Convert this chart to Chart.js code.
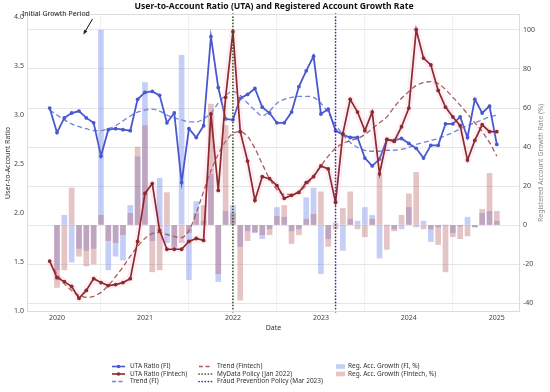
<!DOCTYPE html>
<html>
<head>
<meta charset="utf-8">
<script src="https://cdn.jsdelivr.net/npm/chart.js@4.4.1/dist/chart.umd.min.js"></script>
<style>
html, body { margin:0; padding:0; background:#fff; }
#wrap { width:550px; height:392px; }
</style>
</head>
<body>
<div id="wrap"><canvas id="chart" width="550" height="392"></canvas></div>
<script>
// monthly observations, Dec 2019 .. Jan 2025
const months = [
	'2019-12',
	'2020-01','2020-02','2020-03','2020-04','2020-05','2020-06','2020-07','2020-08','2020-09','2020-10','2020-11','2020-12',
	'2021-01','2021-02','2021-03','2021-04','2021-05','2021-06','2021-07','2021-08','2021-09','2021-10','2021-11','2021-12',
	'2022-01','2022-02','2022-03','2022-04','2022-05','2022-06','2022-07','2022-08','2022-09','2022-10','2022-11','2022-12',
	'2023-01','2023-02','2023-03','2023-04','2023-05','2023-06','2023-07','2023-08','2023-09','2023-10','2023-11','2023-12',
	'2024-01','2024-02','2024-03','2024-04','2024-05','2024-06','2024-07','2024-08','2024-09','2024-10','2024-11','2024-12',
	'2025-01'
];

const utaFI = [3.07,
	2.82,2.97,3.02,3.04,2.97,2.92,2.58,2.85,2.86,2.85,2.84,3.16,
	3.23,3.24,3.20,2.92,3.02,2.31,2.86,2.77,2.89,3.80,3.28,2.96,
	2.95,3.17,3.21,3.27,3.08,3.02,2.92,2.92,3.03,3.29,3.45,3.60,
	3.01,3.06,2.84,2.80,2.77,2.77,2.56,2.48,2.55,2.75,2.74,2.76,
	2.71,2.66,2.56,2.69,2.69,2.91,2.91,2.98,2.77,3.16,3.02,3.09,
	2.70];

const utaFintech = [1.51,
	1.34,1.30,1.25,1.13,1.21,1.33,1.29,1.26,1.27,1.29,1.33,1.71,
	2.20,2.30,1.82,1.63,1.63,1.63,1.71,1.74,1.72,3.01,2.23,3.18,
	3.85,2.83,2.53,2.13,2.37,2.35,2.28,2.15,2.18,2.21,2.31,2.37,
	2.48,2.45,2.11,2.81,3.16,3.03,2.84,3.03,2.40,2.75,2.73,2.88,
	3.07,3.87,3.58,3.51,3.25,3.08,2.98,2.89,2.54,2.74,2.90,2.83,
	2.83];

const trendFI = [3.05,
	3.00,2.95,2.91,2.88,2.86,2.84,2.84,2.86,2.89,2.94,2.99,3.03,
	3.05,3.06,3.04,3.00,2.97,2.95,2.93,2.93,2.96,3.02,3.12,3.20,
	3.24,3.20,3.12,3.05,2.99,3.04,3.12,3.16,3.18,3.19,3.19,3.18,
	3.12,3.02,2.90,2.80,2.72,2.67,2.64,2.63,2.63,2.64,2.64,2.65,
	2.67,2.70,2.72,2.74,2.76,2.79,2.82,2.86,2.89,2.92,2.95,2.98,
	3.00];

const trendFintech = [1.50,
	1.38,1.28,1.21,1.16,1.14,1.15,1.19,1.26,1.35,1.45,1.56,1.66,
	1.74,1.79,1.80,1.78,1.76,1.75,1.82,2.00,2.22,2.43,2.60,2.73,
	2.81,2.83,2.78,2.66,2.50,2.35,2.24,2.19,2.19,2.22,2.28,2.38,
	2.48,2.58,2.66,2.71,2.74,2.76,2.80,2.86,2.92,2.98,3.08,3.17,
	3.24,3.30,3.33,3.34,3.32,3.26,3.18,3.10,3.01,2.92,2.83,2.72,
	2.58];

// registered account growth, % month on month
const growthFI = [null,
	-23,5,-19,-12,-13,-12,100,-23,-16,-18,10,35,
	73,-8,24,-9,-12,87,-28,12,2,26,-29,7,
	10,-11,-3,-4,-7,-2,9,4,-3,-2,14,19,
	-25,-7,1,-13,3,2,9,5,-17,0,-2,-2,
	9,-1,2,-8.5,-1,0,-4,-0.5,4,-1,6,7,
	2];

const growthFintech = [null,
	-32,-23,19,-16,-21,-20,5,-8,-9,-5,6,40,
	51,-24,-23,16.6,-11,-9,-4,6,10,62,-25,51,
	6,-38.5,-8,-3.5,-5,-5,4.5,10,-9.5,-5,3,5.5,
	17,-11,-2,8.5,17,-2,-6,3,25.5,-12.5,-3,5,
	16,27,-2,-2,-10,-24,-6,-7,-5.6,-1,8,26.5,
	7];

const yearTicks = [2020, 2021, 2022, 2023, 2024, 2025];
const ratioTicks = [1.0, 1.5, 2.0, 2.5, 3.0, 3.5, 4.0];
const growthTicks = [-40, -20, 0, 20, 40, 60, 80, 100];
const policies = [
	{ label: 'MyData Policy (Jan 2022)', date: '2022-01', color: '#34501f' },
	{ label: 'Fraud Prevention Policy (Mar 2023)', date: '2023-03', color: '#4e2590' }
];

const FONT = "'Noto Sans', 'DejaVu Sans', sans-serif";
const C_FI = '#4a58d0', C_FIN = '#8a2c2c';
const C_TFI = '#7283dc', C_TFIN = '#a85c5c';
const C_BFI = 'rgba(100,125,235,0.38)', C_BFIN = 'rgba(185,100,100,0.38)';

function monthIndex(s){
	var p = s.split('-');
	return (+p[0] - 2020) * 12 + (+p[1] - 1);
}
function points(arr){
	return months.map(function(d, i){ return { x: monthIndex(d), y: arr[i] }; });
}

var overlay = {
	id: 'overlay',
	afterDatasetsDraw: function(chart){
		var ctx = chart.ctx, a = chart.chartArea, xs = chart.scales.x;
		ctx.save();
		ctx.lineWidth = 1.7;
		ctx.lineCap = 'round';
		ctx.setLineDash([0.1, 3]);
		policies.forEach(function(p){
			var px = xs.getPixelForValue(monthIndex(p.date));
			ctx.strokeStyle = p.color;
			ctx.beginPath();
			ctx.moveTo(px, a.top);
			ctx.lineTo(px, a.bottom);
			ctx.stroke();
		});
		ctx.restore();
	},
	afterDraw: function(chart){
		var ctx = chart.ctx, a = chart.chartArea;
		var xs = chart.scales.x, yl = chart.scales.y;
		ctx.save();
		// frame
		ctx.strokeStyle = '#dcdcdc';
		ctx.lineWidth = 1;
		ctx.strokeRect(a.left + 0.5, a.top + 0.5, a.right - a.left - 1, a.bottom - a.top - 1);

		// title
		ctx.fillStyle = '#111';
		ctx.font = 'bold 8.6px ' + FONT;
		ctx.textAlign = 'center';
		ctx.textBaseline = 'middle';
		ctx.fillText('User-to-Account Ratio (UTA) and Registered Account Growth Rate', 274, 7);

		// right axis title, reading bottom to top
		ctx.save();
		ctx.translate(541, (a.top + a.bottom) / 2);
		ctx.rotate(-Math.PI / 2);
		ctx.fillStyle = '#8a8a8a';
		ctx.font = '7px ' + FONT;
		ctx.fillText('Registered Account Growth Rate (%)', 0, 0);
		ctx.restore();

		// annotation
		var tx = xs.getPixelForValue(3.6), ty = yl.getPixelForValue(3.82);
		ctx.fillStyle = '#222';
		ctx.font = '7px ' + FONT;
		ctx.textAlign = 'left';
		ctx.fillText('Initial Growth Period', 22, 14);
		var sx = 92.5, sy = 19;
		var ang = Math.atan2(ty - sy, tx - sx);
		ctx.strokeStyle = '#111';
		ctx.lineWidth = 1;
		ctx.beginPath();
		ctx.moveTo(sx, sy);
		ctx.lineTo(tx - 3 * Math.cos(ang), ty - 3 * Math.sin(ang));
		ctx.stroke();
		ctx.beginPath();
		ctx.moveTo(tx, ty);
		ctx.lineTo(tx - 5 * Math.cos(ang - 0.4), ty - 5 * Math.sin(ang - 0.4));
		ctx.lineTo(tx - 5 * Math.cos(ang + 0.4), ty - 5 * Math.sin(ang + 0.4));
		ctx.closePath();
		ctx.fill();

		// legend
		var rows = [366.5, 374, 381.5];
		ctx.font = '6.5px ' + FONT;
		ctx.textBaseline = 'middle';
		function lineItem(x, y, color, dash, marker, text){
			ctx.save();
			ctx.strokeStyle = color;
			ctx.lineWidth = dash && dash[0] < 1 ? 1.7 : 1.6;
			ctx.lineCap = dash && dash[0] < 1 ? 'round' : 'butt';
			ctx.setLineDash(dash || []);
			ctx.beginPath();
			ctx.moveTo(x, y);
			ctx.lineTo(x + 13, y);
			ctx.stroke();
			if(marker){
				ctx.fillStyle = color;
				ctx.beginPath();
				ctx.arc(x + 6.5, y, 1.8, 0, Math.PI * 2);
				ctx.fill();
			}
			ctx.restore();
			ctx.fillStyle = '#333';
			ctx.fillText(text, x + 18, y);
		}
		function patchItem(x, y, color, text){
			ctx.fillStyle = color;
			ctx.fillRect(x, y - 2.3, 9, 4.6);
			ctx.fillStyle = '#333';
			ctx.fillText(text, x + 12, y);
		}
		lineItem(112, rows[0], C_FI, null, true, 'UTA Ratio (FI)');
		lineItem(112, rows[1], C_FIN, null, true, 'UTA Ratio (Fintech)');
		lineItem(112, rows[2], C_TFI, [4, 2.5], false, 'Trend (FI)');
		lineItem(199, rows[0], C_TFIN, [4, 2.5], false, 'Trend (Fintech)');
		lineItem(199, rows[1], policies[0].color, [0.1, 3], false, policies[0].label);
		lineItem(199, rows[2], policies[1].color, [0.1, 3], false, policies[1].label);
		patchItem(336, rows[0], C_BFI, 'Reg. Acc. Growth (FI, %)');
		patchItem(336, rows[1], C_BFIN, 'Reg. Acc. Growth (Fintech, %)');
		ctx.restore();
	}
};

var config = {
	type: 'bar',
	data: {
		datasets: [
			{
				type: 'bar',
				label: 'Reg. Acc. Growth (FI, %)',
				data: points(growthFI),
				yAxisID: 'y1',
				backgroundColor: C_BFI,
				barThickness: 5,
				grouped: false,
				order: 10
			},
			{
				type: 'bar',
				label: 'Reg. Acc. Growth (Fintech, %)',
				data: points(growthFintech),
				yAxisID: 'y1',
				backgroundColor: C_BFIN,
				barThickness: 5,
				grouped: false,
				order: 9
			},
			{
				type: 'line',
				label: 'Trend (FI)',
				data: points(trendFI),
				yAxisID: 'y',
				borderColor: C_TFI,
				borderDash: [5, 3],
				borderWidth: 1.3,
				pointRadius: 0,
				cubicInterpolationMode: 'monotone',
				order: 8
			},
			{
				type: 'line',
				label: 'Trend (Fintech)',
				data: points(trendFintech),
				yAxisID: 'y',
				borderColor: C_TFIN,
				borderDash: [5, 3],
				borderWidth: 1.3,
				pointRadius: 0,
				cubicInterpolationMode: 'monotone',
				order: 7
			},
			{
				type: 'line',
				label: 'UTA Ratio (FI)',
				data: points(utaFI),
				yAxisID: 'y',
				borderColor: C_FI,
				backgroundColor: C_FI,
				borderWidth: 1.8,
				pointRadius: 1.9,
				pointBorderWidth: 0,
				order: 6
			},
			{
				type: 'line',
				label: 'glow',
				data: points(utaFintech),
				yAxisID: 'y',
				borderColor: 'rgba(255,140,190,0.15)',
				borderWidth: 7,
				borderJoinStyle: 'round',
				pointRadius: 0,
				order: 5
			},
			{
				type: 'line',
				label: 'UTA Ratio (Fintech)',
				data: points(utaFintech),
				yAxisID: 'y',
				borderColor: C_FIN,
				backgroundColor: C_FIN,
				borderWidth: 1.7,
				pointRadius: 1.9,
				pointBorderWidth: 0,
				order: 4
			}
		]
	},
	options: {
		responsive: false,
		animation: false,
		events: [],
		layout: { padding: { top: 14, bottom: 58, left: 0, right: 0 } },
		plugins: { legend: { display: false }, tooltip: { enabled: false } },
		scales: {
			x: {
				type: 'linear',
				offset: false,
				min: -4.09,
				max: 63.16,
				afterBuildTicks: function(s){ s.ticks = yearTicks.map(function(y){ return { value: (y - 2020) * 12 }; }); },
				afterFit: function(s){ s.height = 22; },
				ticks: {
					callback: function(v){ return String(2020 + v / 12); },
					color: '#444',
					font: { family: FONT, size: 7 },
					padding: 2,
					maxRotation: 0
				},
				grid: { color: '#f0f0f0', drawTicks: false },
				border: { display: false },
				title: { display: true, text: 'Date', color: '#333', font: { family: FONT, size: 7 }, padding: { top: 0, bottom: 1.5 } }
			},
			y: {
				position: 'left',
				min: 0.99,
				max: 4.03,
				afterBuildTicks: function(s){ s.ticks = ratioTicks.map(function(v){ return { value: v }; }); },
				afterFit: function(s){ s.width = 27; },
				ticks: {
					callback: function(v){ return Number(v).toFixed(1); },
					color: '#444',
					font: { family: FONT, size: 7 },
					padding: 3
				},
				grid: { display: false, drawTicks: false },
				border: { display: false },
				title: { display: true, text: 'User-to-Account Ratio', color: '#333', font: { family: FONT, size: 7 }, padding: { top: 3.5, bottom: 0 } }
			},
			y1: {
				position: 'right',
				min: -44.6,
				max: 108.2,
				afterBuildTicks: function(s){ s.ticks = growthTicks.map(function(v){ return { value: v }; }); },
				afterFit: function(s){ s.width = 30; },
				ticks: {
					color: '#444',
					font: { family: FONT, size: 7 },
					padding: 3
				},
				grid: { color: '#e6e6e6', drawTicks: false },
				border: { display: false }
			}
		}
	},
	plugins: [overlay]
};

new Chart(document.getElementById('chart'), config);
</script>
</body>
</html>
